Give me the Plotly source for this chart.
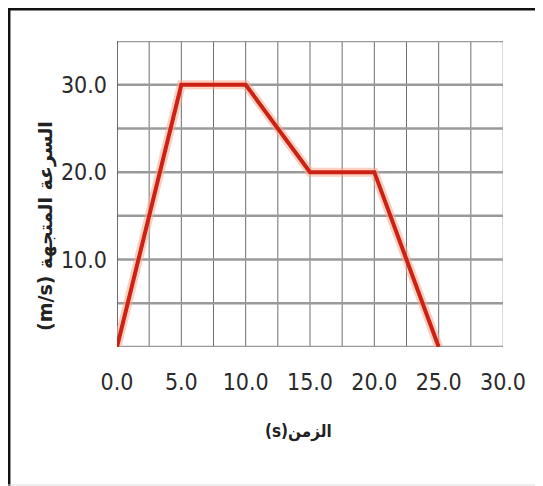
import plotly.graph_objects as go

time_s = [0, 5, 10, 15, 20, 25]
velocity = [0, 30, 30, 20, 20, 0]
x_ticks = [0, 5, 10, 15, 20, 25, 30]
x_tick_labels = ["0.0", "5.0", "10.0", "15.0", "20.0", "25.0", "30.0"]
y_ticks = [10, 20, 30]
y_tick_labels = ["10.0", "20.0", "30.0"]
# written in visual (left-to-right) order so the LTR SVG text matches the RTL layout
x_title = "(s)الزمن"
y_title = "(m/s) السرعة المتجهة"

# page body has an 8px margin, so figure coords = page coords - 8
OFF = 8
W, H = 535, 478
L, R, T, B = 117 - OFF, 40, 41 - OFF, 139
pw, ph = W - L - R, H - T - B

def px_x(p):  # page x -> paper x
    return (p - OFF - L) / pw

def px_y(p):  # page y -> paper y
    return (H - B - (p - OFF)) / ph

fig = go.Figure()

# soft glow under the line
fig.add_trace(go.Scatter(x=time_s, y=velocity, mode="lines",
                         line=dict(color="rgba(250,170,140,0.55)", width=9),
                         hoverinfo="skip", showlegend=False, cliponaxis=False))
fig.add_trace(go.Scatter(x=time_s, y=velocity, mode="lines",
                         line=dict(color="#cc2216", width=4),
                         showlegend=False, cliponaxis=False))

font_ticks = dict(family="DejaVu Sans Condensed, sans-serif", size=23, color="#2a2a2a")

fig.update_layout(
    width=W, height=H,
    margin=dict(l=L, r=R, t=T, b=B, pad=0),
    paper_bgcolor="white", plot_bgcolor="white",
    xaxis=dict(range=[0, 30], tickmode="array", tickvals=x_ticks, ticktext=x_tick_labels,
               tickfont=font_ticks, showgrid=False, zeroline=False, showline=False,
               ticks="", ticklabelstandoff=19, fixedrange=True),
    yaxis=dict(range=[0, 35], tickmode="array", tickvals=y_ticks, ticktext=y_tick_labels,
               tickfont=font_ticks, showgrid=False, zeroline=False, showline=False,
               ticks="", ticklabelstandoff=9, fixedrange=True),
    showlegend=False,
)

shapes = []
v = 0.0
while v <= 30.001:
    col = "#b8b8b8" if v == 30.0 else "#6e6e6e"
    shapes.append(dict(type="line", xref="x", yref="y", x0=v, x1=v, y0=0, y1=35,
                       line=dict(color=col, width=1), layer="below"))
    v += 2.5
h = 0
while h <= 35:
    shapes.append(dict(type="line", xref="x", yref="y", x0=0, x1=30, y0=h, y1=h,
                       line=dict(color="#9a9a9a", width=2.5), layer="below"))
    h += 5
shapes.append(dict(type="line", xref="x", yref="y", x0=0, x1=0, y0=0, y1=35,
                   line=dict(color="#555555", width=1.5), layer="below"))
# picture frame (top and left dark, bottom faint)
shapes.append(dict(type="line", xref="paper", yref="paper",
                   x0=px_x(OFF), x1=px_x(OFF + W), y0=px_y(OFF + 1.2), y1=px_y(OFF + 1.2),
                   line=dict(color="#111111", width=2.5)))
shapes.append(dict(type="line", xref="paper", yref="paper",
                   x0=px_x(OFF + 1.2), x1=px_x(OFF + 1.2), y0=px_y(OFF + H), y1=px_y(OFF),
                   line=dict(color="#111111", width=2.5)))
shapes.append(dict(type="line", xref="paper", yref="paper",
                   x0=px_x(OFF), x1=px_x(OFF + W), y0=px_y(485), y1=px_y(485),
                   line=dict(color="#dddddd", width=1)))
fig.update_layout(shapes=shapes)

fig.add_annotation(text="<b>" + x_title + "</b>", xref="paper", yref="paper",
                   x=px_x(298), y=px_y(431), yanchor="middle", xanchor="center",
                   showarrow=False,
                   font=dict(family="DejaVu Sans Condensed, DejaVu Sans, sans-serif", size=17, color="#222222"))
fig.add_annotation(text="<b>" + y_title + "</b>", xref="paper", yref="paper",
                   x=px_x(45), y=px_y(226), xanchor="center", yanchor="middle",
                   textangle=-90, showarrow=False,
                   font=dict(family="DejaVu Sans, sans-serif", size=19, color="#222222"))

fig.write_html("out.html")
